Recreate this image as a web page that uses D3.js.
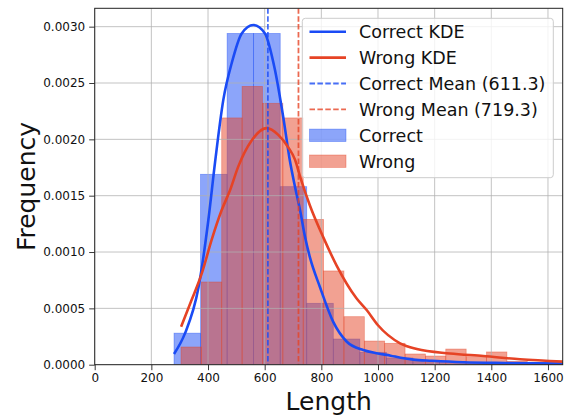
<!DOCTYPE html>
<html>
<head>
<meta charset="utf-8">
<script src="https://cdn.jsdelivr.net/npm/d3@7"></script>
<style>
  html, body { margin: 0; padding: 0; background: #fff; }
  svg { display: block; font-family: "DejaVu Sans", sans-serif; }
</style>
</head>
<body>
<svg id="chart" width="574" height="417"></svg>
<script>
// Histogram bin edges and densities (density-normalised)
const correctEdges = [280, 373.7, 467.4, 561.1, 654.8, 748.5, 842.2, 935.9, 1029.6, 1123.3, 1217, 1310.7, 1404.4, 1498.1, 1591.8, 1685.5];
const correctDensity = [0.00028, 0.00169, 0.00294, 0.00294, 0.00158, 0.000545, 0.000228, 0.00011, 0.00006, 0.00004, 0.00003, 0.00002, 0.00002, 0.00001, 0.00001];

const wrongEdges = [304.6, 376.5, 448.4, 520.3, 592.2, 664.1, 736, 807.9, 879.8, 951.7, 1023.6, 1095.5, 1167.4, 1239.3, 1311.2, 1383.1, 1455, 1526.9, 1598.8, 1670.7];
const wrongDensity = [0.000157, 0.000734, 0.00219, 0.00247, 0.00232, 0.00219, 0.00129, 0.000832, 0.000426, 0.00021, 0.00019, 0.000095, 0.000077, 0.000139, 0.000071, 0.000113, 0.00003, 0.00002, 0.00002];

// Kernel density estimates
const correctKdeX = [280, 319, 366, 401, 425, 454, 484, 519, 560, 601, 636, 666, 689, 707, 725, 742, 760, 795, 842, 890, 948, 1000, 1045, 1080, 1125, 1190, 1300, 1450, 1653];
const correctKdeY = [0.000095, 0.00028, 0.00068, 0.00128, 0.0018, 0.00235, 0.00268, 0.00294, 0.003015, 0.00294, 0.00262, 0.00219, 0.00181, 0.00158, 0.00137, 0.00114, 0.00095, 0.00069, 0.00038, 0.000204, 0.00013, 0.0001, 0.00008, 0.000062, 0.000045, 0.000035, 0.000022, 0.000015, 0.00001];

const wrongKdeX = [305, 342, 378, 413, 448, 478, 507, 554, 607, 648, 683, 707, 725, 760, 807, 854, 924, 960, 1000, 1078, 1137, 1254, 1372, 1501, 1653];
const wrongKdeY = [0.000337, 0.000574, 0.00081, 0.00111, 0.00137, 0.00155, 0.00176, 0.00199, 0.0021, 0.00204, 0.00193, 0.00182, 0.00167, 0.00141, 0.00113, 0.00088, 0.00059, 0.000485, 0.00035, 0.00019, 0.000139, 0.0001, 0.000077, 0.000048, 0.000027];

const correctMean = 611.3;
const wrongMean = 719.3;

const xTicks = [0, 200, 400, 600, 800, 1000, 1200, 1400, 1600];
const yTicks = [0, 0.0005, 0.001, 0.0015, 0.002, 0.0025, 0.003];

const legendLabels = ["Correct KDE", "Wrong KDE", "Correct Mean (611.3)", "Wrong Mean (719.3)", "Correct", "Wrong"];

// Layout
const plot = { left: 94.7, right: 562.7, top: 8.3, bottom: 364.7 };
const BLUE = "#1a4bf5";
const RED = "#e64325";

const svg = d3.select("#chart");

const x = d3.scaleLinear().domain([0, 1652]).range([plot.left, plot.right]);
const y = d3.scaleLinear().domain([0, 0.003163]).range([plot.bottom, plot.top]);

svg.append("defs").append("clipPath").attr("id", "plotClip")
  .append("rect")
  .attr("x", plot.left).attr("y", plot.top)
  .attr("width", plot.right - plot.left).attr("height", plot.bottom - plot.top);

const area = svg.append("g").attr("clip-path", "url(#plotClip)");

// Histogram bars
function drawBars(edges, dens, color) {
  const bins = dens.map((d, i) => ({ x0: edges[i], x1: edges[i + 1], v: d }));
  area.append("g").selectAll("rect").data(bins).join("rect")
    .attr("x", d => x(d.x0))
    .attr("width", d => x(d.x1) - x(d.x0))
    .attr("y", d => y(d.v))
    .attr("height", d => y(0) - y(d.v))
    .attr("fill", color).attr("fill-opacity", 0.5)
    .attr("stroke", color).attr("stroke-opacity", 0.5).attr("stroke-width", 0.7);
}
drawBars(correctEdges, correctDensity, BLUE);
drawBars(wrongEdges, wrongDensity, RED);

// Grid
const grid = area.append("g").attr("stroke", "#b0b0b0").attr("stroke-width", 0.9).attr("stroke-opacity", 0.85);
grid.selectAll(".gx").data(xTicks).join("line")
  .attr("x1", d => x(d)).attr("x2", d => x(d))
  .attr("y1", plot.top).attr("y2", plot.bottom);
grid.selectAll(".gy").data(yTicks).join("line")
  .attr("y1", d => y(d)).attr("y2", d => y(d))
  .attr("x1", plot.left).attr("x2", plot.right);

// KDE curves
const line = d3.line().x(d => x(d[0])).y(d => y(d[1])).curve(d3.curveMonotoneX);
area.append("path")
  .attr("d", line(correctKdeX.map((v, i) => [v, correctKdeY[i]])))
  .attr("fill", "none").attr("stroke", BLUE).attr("stroke-width", 2.6);
area.append("path")
  .attr("d", line(wrongKdeX.map((v, i) => [v, wrongKdeY[i]])))
  .attr("fill", "none").attr("stroke", RED).attr("stroke-width", 2.6);

// Mean lines
[[correctMean, BLUE], [wrongMean, RED]].forEach(([m, c]) => {
  area.append("line")
    .attr("x1", x(m)).attr("x2", x(m))
    .attr("y1", plot.top).attr("y2", plot.bottom)
    .attr("stroke", c).attr("stroke-opacity", 0.8)
    .attr("stroke-width", 1.8).attr("stroke-dasharray", "5.5,2.4");
});

// Axes
const xAxis = d3.axisBottom(x).tickValues(xTicks).tickFormat(d3.format("d")).tickSize(5.5).tickPadding(3.5);
const yAxis = d3.axisLeft(y).tickValues(yTicks).tickFormat(d3.format(".4f")).tickSize(5.5).tickPadding(4);

const gx = svg.append("g").attr("transform", `translate(0,${plot.bottom})`).call(xAxis);
const gy = svg.append("g").attr("transform", `translate(${plot.left},0)`).call(yAxis);
[gx, gy].forEach(g => {
  g.select(".domain").remove();
  g.selectAll(".tick line").attr("stroke", "#222").attr("stroke-width", 0.9);
  g.selectAll(".tick text").attr("fill", "#111").style("font-size", "12px").style("font-family", "DejaVu Sans");
});

// Spines
svg.append("rect")
  .attr("x", plot.left).attr("y", plot.top)
  .attr("width", plot.right - plot.left).attr("height", plot.bottom - plot.top)
  .attr("fill", "none").attr("stroke", "#222").attr("stroke-width", 1);

// Axis labels
svg.append("text")
  .attr("x", (plot.left + plot.right) / 2).attr("y", 410)
  .attr("text-anchor", "middle")
  .style("font-size", "25px").attr("fill", "#111")
  .text("Length");
svg.append("text")
  .attr("transform", `translate(35,${(plot.top + plot.bottom) / 2}) rotate(-90)`)
  .attr("text-anchor", "middle")
  .style("font-size", "25px").attr("fill", "#111")
  .text("Frequency");

// Legend
const lg = svg.append("g");
lg.append("rect")
  .attr("x", 302.3).attr("y", 18.3).attr("width", 251).attr("height", 159.4)
  .attr("rx", 3).attr("fill", "#fff").attr("fill-opacity", 0.8)
  .attr("stroke", "#cccccc").attr("stroke-width", 1);

const rowY0 = 31.7, rowStep = 25.9;
const hx0 = 309.5, hx1 = 346, tx = 359;
legendLabels.forEach((label, i) => {
  const cy = rowY0 + i * rowStep;
  if (i < 2) {
    lg.append("line").attr("x1", hx0).attr("x2", hx1).attr("y1", cy).attr("y2", cy)
      .attr("stroke", i === 0 ? BLUE : RED).attr("stroke-width", 2.6);
  } else if (i < 4) {
    lg.append("line").attr("x1", hx0).attr("x2", hx1).attr("y1", cy).attr("y2", cy)
      .attr("stroke", i === 2 ? BLUE : RED).attr("stroke-opacity", 0.8)
      .attr("stroke-width", 1.8).attr("stroke-dasharray", "5.5,2.4");
  } else {
    const c = i === 4 ? BLUE : RED;
    lg.append("rect").attr("x", hx0).attr("y", cy - 6.2).attr("width", hx1 - hx0).attr("height", 12.4)
      .attr("fill", c).attr("fill-opacity", 0.5)
      .attr("stroke", c).attr("stroke-opacity", 0.5).attr("stroke-width", 0.7);
  }
  lg.append("text").attr("x", tx).attr("y", cy).attr("dy", "0.36em")
    .style("font-size", "17.5px").attr("fill", "#111")
    .text(label);
});
</script>
</body>
</html>
